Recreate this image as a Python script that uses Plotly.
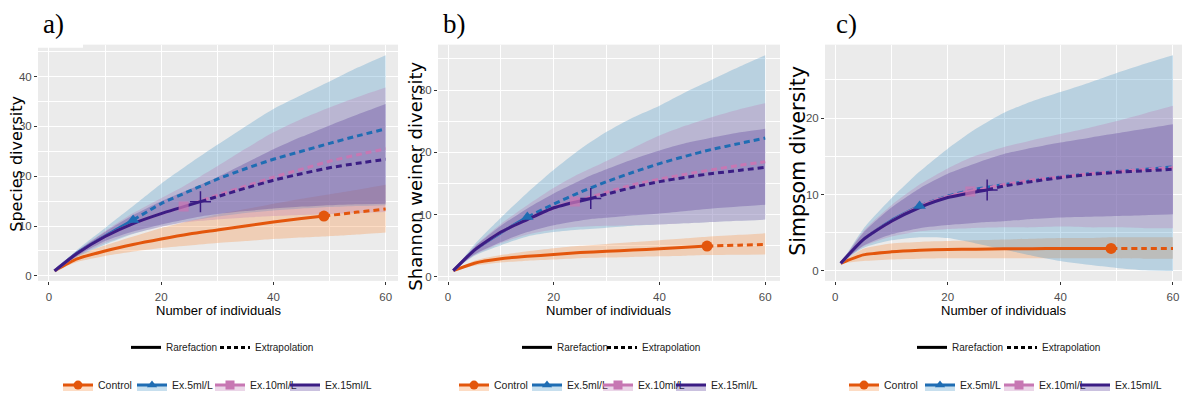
import plotly.graph_objects as go

# ---------------- data ----------------
GROUPS = ["Control", "Ex.5ml/L", "Ex.10ml/L", "Ex.15ml/L"]

# sample-size grids (observed sample size is included in each grid)
X_CTRL = [1, 5, 10, 15, 20, 25, 30, 35, 40, 45, 49, 55, 60]
X_EX5 = [1, 5, 10, 15, 20, 25, 30, 35, 40, 45, 50, 55, 60]
X_EX10 = [1, 5, 10, 15, 20, 24, 30, 35, 40, 45, 50, 55, 60]
X_EX15 = [1, 5, 10, 15, 20, 27, 30, 35, 40, 45, 50, 55, 60]
OBS_X = [49, 15, 24, 27]

# a) Species diversity
a_ctrl = [1, 3.4, 5.0, 6.3, 7.4, 8.4, 9.2, 10.0, 10.8, 11.5, 12.0, 12.8, 13.4]
a_ctrl_lo = [1, 2.8, 4.0, 4.9, 5.6, 6.1, 6.6, 7.0, 7.4, 7.7, 7.9, 8.3, 8.7]
a_ctrl_hi = [1, 4.1, 6.1, 7.9, 9.6, 11.0, 12.3, 13.4, 14.5, 15.5, 16.2, 17.3, 18.3]
a_ex5 = [1, 4.6, 8.0, 11.2, 14.5, 17.0, 19.4, 21.5, 23.4, 25.0, 26.6, 28.1, 29.5]
a_ex5_lo = [1, 3.8, 6.3, 8.4, 9.9, 11.0, 11.9, 12.6, 13.1, 13.5, 13.8, 14.0, 14.2]
a_ex5_hi = [1, 5.2, 9.6, 14.0, 18.5, 22.5, 26.3, 30.0, 33.5, 36.3, 39.0, 41.8, 44.3]
a_ex10 = [1, 4.5, 7.9, 10.5, 12.5, 13.9, 16.2, 18.0, 19.8, 21.4, 23.0, 24.3, 25.5]
a_ex10_lo = [1, 3.9, 6.6, 8.5, 9.8, 10.7, 11.3, 11.7, 12.0, 12.2, 12.4, 12.6, 12.8]
a_ex10_hi = [1, 5.0, 9.0, 12.6, 15.6, 18.0, 22.0, 25.5, 28.8, 31.5, 33.8, 35.9, 37.8]
a_ex15 = [1, 4.5, 7.9, 10.5, 12.5, 14.9, 15.9, 17.6, 19.2, 20.5, 21.7, 22.6, 23.4]
a_ex15_lo = [1, 4.0, 7.0, 8.9, 10.3, 11.9, 12.4, 13.0, 13.5, 13.9, 14.2, 14.4, 14.5]
a_ex15_hi = [1, 4.9, 8.8, 12.2, 15.0, 18.3, 19.8, 22.6, 25.4, 27.9, 30.2, 32.4, 34.5]

# b) Shannon weiner diversity
b_ctrl = [1, 2.2, 2.9, 3.3, 3.6, 3.9, 4.1, 4.3, 4.5, 4.75, 4.95, 5.1, 5.2]
b_ctrl_lo = [1, 1.8, 2.3, 2.6, 2.8, 3.0, 3.1, 3.2, 3.3, 3.4, 3.5, 3.55, 3.6]
b_ctrl_hi = [1, 2.6, 3.5, 4.1, 4.6, 5.0, 5.3, 5.6, 5.9, 6.2, 6.45, 6.75, 7.0]
b_ex5 = [1, 4.3, 7.1, 9.6, 11.7, 13.6, 15.3, 16.8, 18.2, 19.4, 20.5, 21.4, 22.3]
b_ex5_lo = [1, 3.4, 5.1, 6.5, 7.2, 7.6, 7.9, 8.2, 8.4, 8.6, 8.8, 9.0, 9.2]
b_ex5_hi = [1, 5.2, 9.5, 13.5, 17.2, 20.5, 23.3, 25.6, 27.5, 29.7, 31.7, 33.7, 35.6]
b_ex10 = [1, 4.3, 7.2, 9.2, 11.1, 12.1, 13.6, 14.8, 15.7, 16.5, 17.2, 17.9, 18.5]
b_ex10_lo = [1, 3.5, 5.4, 6.8, 7.6, 8.0, 8.2, 8.3, 8.4, 8.6, 8.8, 9.0, 9.2]
b_ex10_hi = [1, 4.9, 8.5, 11.5, 14.3, 16.2, 18.6, 20.7, 22.7, 24.3, 25.7, 26.9, 27.9]
b_ex15 = [1, 4.3, 7.2, 9.2, 11.1, 12.6, 13.3, 14.4, 15.3, 16.0, 16.6, 17.1, 17.6]
b_ex15_lo = [1, 3.6, 5.6, 7.2, 8.3, 9.3, 9.5, 9.9, 10.2, 10.6, 11.0, 11.3, 11.6]
b_ex15_hi = [1, 4.8, 8.2, 11.0, 13.4, 16.3, 17.3, 18.9, 20.3, 21.5, 22.4, 23.2, 23.8]

# c) Simpsom diversity
c_ctrl = [1, 2.1, 2.5, 2.7, 2.8, 2.85, 2.9, 2.9, 2.95, 2.95, 2.95, 2.95, 2.95]
c_ctrl_lo = [1, 1.3, 1.5, 1.6, 1.65, 1.65, 1.65, 1.65, 1.65, 1.65, 1.65, 1.6, 1.6]
c_ctrl_hi = [1, 2.9, 3.6, 3.8, 3.9, 4.0, 4.1, 4.2, 4.3, 4.3, 4.4, 4.4, 4.4]
c_ex5 = [1, 4.1, 6.6, 8.5, 9.8, 10.7, 11.3, 11.8, 12.3, 12.7, 13.0, 13.3, 13.6]
c_ex5_lo = [1, 3.0, 4.0, 4.4, 4.3, 3.6, 2.8, 2.0, 1.3, 0.8, 0.4, 0.1, 0.0]
c_ex5_hi = [1, 5.5, 9.5, 13.0, 16.0, 18.6, 20.7, 22.2, 23.4, 24.6, 25.9, 27.1, 28.2]
c_ex10 = [1, 4.1, 6.5, 8.4, 9.7, 10.4, 11.3, 11.9, 12.3, 12.7, 13.0, 13.3, 13.5]
c_ex10_lo = [1, 3.2, 4.5, 5.2, 5.5, 5.6, 5.7, 5.7, 5.8, 5.7, 5.7, 5.6, 5.6]
c_ex10_hi = [1, 5.2, 8.6, 11.3, 13.4, 14.8, 16.2, 17.1, 17.9, 18.7, 19.6, 20.6, 21.6]
c_ex15 = [1, 4.1, 6.5, 8.3, 9.6, 10.6, 11.1, 11.7, 12.2, 12.6, 12.9, 13.1, 13.3]
c_ex15_lo = [1, 3.3, 4.8, 5.6, 6.0, 6.4, 6.5, 6.8, 7.0, 7.1, 7.2, 7.3, 7.4]
c_ex15_hi = [1, 5.0, 8.3, 10.8, 12.7, 14.6, 15.3, 16.1, 16.8, 17.4, 18.0, 18.6, 19.2]

Y_TITLES = ["Species diversity", "Shannon weiner diversity", "Simpsom diversity"]
X_TITLE = "Number of individuals"
PANEL_LABELS = ["a)", "b)", "c)"]
X_TICKS = [0, 20, 40, 60]
Y_TICKS = [[0, 10, 20, 30, 40], [0, 10, 20, 30], [0, 10, 20]]
LINETYPES = ["Rarefaction", "Extrapolation"]

# ---------------- style ----------------
W, H = 1183, 400
LINE = {"Control": "#E3560C", "Ex.5ml/L": "#1F6DB3",
        "Ex.10ml/L": "#C777B3", "Ex.15ml/L": "#3B1D84"}
FILL = {"Control": "rgba(250,140,60,0.30)", "Ex.5ml/L": "rgba(70,150,200,0.30)",
        "Ex.10ml/L": "rgba(190,120,180,0.30)", "Ex.15ml/L": "rgba(80,50,150,0.30)"}
SYMBOL = {"Control": "circle", "Ex.5ml/L": "triangle-up",
          "Ex.10ml/L": "square", "Ex.15ml/L": "cross-thin"}
MSIZE = {"Control": 11, "Ex.5ml/L": 11, "Ex.10ml/L": 10, "Ex.15ml/L": 15}
XGRID = {"Control": X_CTRL, "Ex.5ml/L": X_EX5, "Ex.10ml/L": X_EX10, "Ex.15ml/L": X_EX15}
SANS = "Liberation Sans, Arial, sans-serif"
WIDE = "DejaVu Sans, Verdana, sans-serif"

panels = [
    {"Control": (a_ctrl, a_ctrl_lo, a_ctrl_hi), "Ex.5ml/L": (a_ex5, a_ex5_lo, a_ex5_hi),
     "Ex.10ml/L": (a_ex10, a_ex10_lo, a_ex10_hi), "Ex.15ml/L": (a_ex15, a_ex15_lo, a_ex15_hi)},
    {"Control": (b_ctrl, b_ctrl_lo, b_ctrl_hi), "Ex.5ml/L": (b_ex5, b_ex5_lo, b_ex5_hi),
     "Ex.10ml/L": (b_ex10, b_ex10_lo, b_ex10_hi), "Ex.15ml/L": (b_ex15, b_ex15_lo, b_ex15_hi)},
    {"Control": (c_ctrl, c_ctrl_lo, c_ctrl_hi), "Ex.5ml/L": (c_ex5, c_ex5_lo, c_ex5_hi),
     "Ex.10ml/L": (c_ex10, c_ex10_lo, c_ex10_hi), "Ex.15ml/L": (c_ex15, c_ex15_lo, c_ex15_hi)},
]

# layout geometry in screen pixels
X_DOM_PX = [(38, 398), (438, 780), (825, 1182)]
Y_DOM_PX = (45, 283)
X_RANGES = [[-1.95, 62.2], [-1.9, 62.8], [-1.8, 61.6]]
Y_RANGES = [[-1.0, 46.4], [-0.64, 37.3], [-1.3, 29.6]]
YT_POS = [(17, 165, 16), (416, 178, 18), (798, 162, 20.5)]
XT_POS = [(219, 313), (609, 313), (1004, 313)]
LBL_POS = [42, 442, 835]
# legends: (row start, item widths)
LEG1 = [(126, [44, 62]), (517, [40, 62]), (912, [45, 62])]
LEG2 = [(58, [29, 33, 30, 48]), (454, [28, 26, 28, 48]), (844, [31, 34, 31, 48])]


def px_x(p):
    return p / W


def px_y(p):
    return 1 - p / H


fig = go.Figure()
SPL = dict(shape="spline", smoothing=0.6)

for p, panel in enumerate(panels):
    xa = "x" if p == 0 else f"x{p + 1}"
    ya = "y" if p == 0 else f"y{p + 1}"
    # ribbons
    for g in GROUPS:
        mean, lo, hi = panel[g]
        xs = XGRID[g]
        fig.add_trace(go.Scatter(x=xs, y=lo, mode="lines", line=dict(width=0, **SPL),
                                 xaxis=xa, yaxis=ya, showlegend=False, hoverinfo="skip"))
        fig.add_trace(go.Scatter(x=xs, y=hi, mode="lines", line=dict(width=0, **SPL),
                                 fill="tonexty", fillcolor=FILL[g],
                                 xaxis=xa, yaxis=ya, showlegend=False, hoverinfo="skip"))
    # curves
    for g, ox in zip(GROUPS, OBS_X):
        mean = panel[g][0]
        xs = XGRID[g]
        k = xs.index(ox)
        fig.add_trace(go.Scatter(x=xs[:k + 1], y=mean[:k + 1], mode="lines",
                                 line=dict(color=LINE[g], width=3, **SPL),
                                 xaxis=xa, yaxis=ya, showlegend=False, hoverinfo="skip"))
        fig.add_trace(go.Scatter(x=xs[k:], y=mean[k:], mode="lines",
                                 line=dict(color=LINE[g], width=3, dash="6px,4px", **SPL),
                                 xaxis=xa, yaxis=ya, showlegend=False, hoverinfo="skip"))
    # observed points
    for g, ox in zip(GROUPS, OBS_X):
        mean = panel[g][0]
        k = XGRID[g].index(ox)
        mk = dict(symbol=SYMBOL[g], size=MSIZE[g], color=LINE[g])
        if g == "Ex.15ml/L":
            mk["line"] = dict(color=LINE[g], width=1.5)
        if g == "Ex.10ml/L":
            mk["opacity"] = 0.75
        fig.add_trace(go.Scatter(x=[ox], y=[mean[k]], mode="markers", marker=mk,
                                 xaxis=xa, yaxis=ya, showlegend=False, hoverinfo="skip"))

    # legend entries
    l1 = "legend" if p == 0 else f"legend{2 * p + 1}"
    l2 = f"legend{2 * p + 2}"
    for name, dash, w in zip(LINETYPES, ["solid", "4px,3px"], LEG1[p][1]):
        fig.add_trace(go.Scatter(x=[None], y=[None], mode="lines", name=name,
                                 line=dict(color="black", width=3, dash=dash),
                                 legend=l1, legendwidth=w, xaxis=xa, yaxis=ya))
    for g, w in zip(GROUPS, LEG2[p][1]):
        mk = dict(symbol=SYMBOL[g], size=9, color=LINE[g])
        fig.add_trace(go.Scatter(x=[None], y=[None], mode="lines+markers", name=g,
                                 line=dict(color=LINE[g], width=3), marker=mk,
                                 fill="toself", fillcolor=FILL[g],
                                 legend=l2, legendwidth=w, xaxis=xa, yaxis=ya))

layout = dict(
    width=W, height=H, autosize=False,
    margin=dict(l=0, r=0, t=0, b=0),
    paper_bgcolor="white", plot_bgcolor="#EBEBEB",
    font=dict(family=SANS, color="#222222"),
    showlegend=True,
    annotations=[], shapes=[],
)

for p in range(3):
    xk = "xaxis" if p == 0 else f"xaxis{p + 1}"
    yk = "yaxis" if p == 0 else f"yaxis{p + 1}"
    xa = "x" if p == 0 else f"x{p + 1}"
    ya = "y" if p == 0 else f"y{p + 1}"
    layout[xk] = dict(
        domain=[px_x(X_DOM_PX[p][0]), px_x(X_DOM_PX[p][1])], anchor=ya,
        range=X_RANGES[p], tickvals=X_TICKS, showgrid=True, gridcolor="white", gridwidth=1.2,
        zeroline=False, ticks="outside", ticklen=3, tickcolor="#333333",
        tickfont=dict(family=SANS, size=11.5, color="#4D4D4D"), ticklabelstandoff=2,
        minor=dict(tickvals=[10, 30, 50], showgrid=True, gridcolor="white", gridwidth=0.6, ticks=""),
        showline=False, fixedrange=True,
    )
    layout[yk] = dict(
        domain=[px_y(Y_DOM_PX[1]), px_y(Y_DOM_PX[0])], anchor=xa,
        range=Y_RANGES[p], tickvals=Y_TICKS[p], showgrid=True, gridcolor="white", gridwidth=1.2,
        zeroline=False, ticks="outside", ticklen=3, tickcolor="#333333",
        tickfont=dict(family=SANS, size=11.5, color="#4D4D4D"),
        minor=dict(tickvals=[v + 5 for v in Y_TICKS[p]], showgrid=True, gridcolor="white",
                   gridwidth=0.6, ticks=""),
        showline=False, fixedrange=True,
    )
    # axis titles
    tx, ty, ts = YT_POS[p]
    layout["annotations"].append(dict(
        text=Y_TITLES[p], x=px_x(tx), y=px_y(ty), xref="paper", yref="paper",
        textangle=-90, showarrow=False, xanchor="center", yanchor="middle",
        font=dict(family=WIDE, size=ts, color="black")))
    xx, xy = XT_POS[p]
    layout["annotations"].append(dict(
        text=X_TITLE, x=px_x(xx), y=px_y(xy), xref="paper", yref="paper",
        showarrow=False, xanchor="center", yanchor="middle",
        font=dict(family=SANS, size=13, color="black")))
    layout["annotations"].append(dict(
        text=PANEL_LABELS[p], x=px_x(LBL_POS[p]), y=px_y(24), xref="paper", yref="paper",
        showarrow=False, xanchor="left", yanchor="middle", borderpad=0,
        font=dict(family="Liberation Serif, Times New Roman, DejaVu Serif, serif", size=27,
                  color="black")))
    # legends
    l1 = "legend" if p == 0 else f"legend{2 * p + 1}"
    l2 = f"legend{2 * p + 2}"
    layout[l1] = dict(x=px_x(LEG1[p][0]), y=px_y(350), xanchor="left", yanchor="middle",
                      orientation="h", bgcolor="rgba(0,0,0,0)", itemwidth=30,
                      font=dict(family=SANS, size=10, color="#222222"), traceorder="normal")
    layout[l2] = dict(x=px_x(LEG2[p][0]), y=px_y(388), xanchor="left", yanchor="middle",
                      orientation="h", bgcolor="rgba(0,0,0,0)", itemwidth=30,
                      font=dict(family=SANS, size=10.5, color="#222222"), traceorder="normal")

# white patch above the top-left of panel a (as in the reference)
layout["shapes"].append(dict(type="rect", xref="paper", yref="paper",
                             x0=px_x(38), x1=px_x(83), y0=px_y(48), y1=px_y(38),
                             fillcolor="white", line=dict(width=0), layer="above"))

fig.update_layout(**layout)
# remove the browser's default 8px page margin so the figure fills the window exactly
fig.write_html("out.html",
               config={"displayModeBar": False},
               post_script="document.body.style.margin='0';"
                           "document.documentElement.style.overflow='hidden';")
